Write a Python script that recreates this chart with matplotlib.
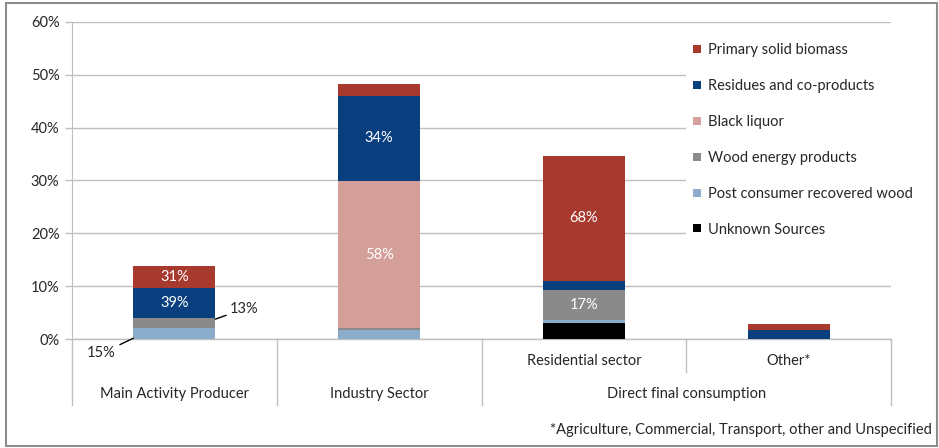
import matplotlib
matplotlib.use("Agg")
import matplotlib.pyplot as plt
from matplotlib.lines import Line2D
from matplotlib.patches import Rectangle
from matplotlib.transforms import blended_transform_factory
import numpy as np

plt.rcParams['font.family'] = ['Lato', 'DejaVu Sans']

# ---------------- data (% of total) ----------------
categories = ["Main Activity Producer", "Industry Sector", "Residential sector", "Other*"]
group_labels = ["Main Activity Producer", "Industry Sector", "Direct final consumption"]
series_names = ["Unknown Sources", "Post consumer recovered wood", "Wood energy products",
                "Black liquor", "Residues and co-products", "Primary solid biomass"]
unknown = [0.0, 0.0, 3.0, 0.0]
post_consumer = [2.1, 1.7, 0.6, 0.1]
wood_energy = [1.9, 0.4, 5.8, 0.0]
black_liquor = [0.0, 27.8, 0.0, 0.0]
residues = [5.6, 16.1, 1.7, 1.7]
primary = [4.3, 2.2, 23.6, 1.1]
colors = ["#000000", "#8BACCB", "#8A8A8A", "#D59F99", "#0A3F7F", "#A8392F"]

# in-bar labels: (category index, series index, text)
inner_labels = [(0, 5, "31%"), (0, 4, "39%"), (1, 4, "34%"), (1, 3, "58%"),
                (2, 5, "68%"), (2, 2, "17%")]
yticks = [0, 10, 20, 30, 40, 50, 60]

# ---------------- figure ----------------
W, H = 939, 448
fig = plt.figure(figsize=(W / 100, H / 100), dpi=100)
ax_l, ax_r, ax_t, ax_b = 72, 891, 21.7, 339.3
ax = fig.add_axes([ax_l / W, 1 - ax_b / H, (ax_r - ax_l) / W, (ax_b - ax_t) / H])

data = [unknown, post_consumer, wood_energy, black_liquor, residues, primary]
x = np.arange(len(categories))
bw = 0.4
bottom = np.zeros(len(categories))
bottoms = []
for vals, c in zip(data, colors):
    vals = np.array(vals)
    bottoms.append(bottom.copy())
    ax.bar(x, vals, bw, bottom=bottom, color=c, linewidth=0, zorder=3)
    bottom += vals

txtc = "#262626"
fs = 10.5
for ci, si, t in inner_labels:
    yc = bottoms[si][ci] + data[si][ci] / 2
    ax.text(x[ci], yc, t, color="white", ha="center", va="center", fontsize=fs, zorder=4)

# outside labels with leader lines
ax.annotate("13%", xy=(x[0] + bw / 2, bottoms[2][0] + data[2][0] * 0.9),
            xytext=(21, 7.5), textcoords="offset points", ha="center", va="center",
            fontsize=fs, color=txtc,
            arrowprops=dict(arrowstyle="-", color="black", lw=1, shrinkA=1, shrinkB=0))
ax.annotate("15%", xy=(x[0] - bw / 2, bottoms[1][0] + data[1][0] * 0.1),
            xytext=(-23, -11), textcoords="offset points", ha="center", va="center",
            fontsize=fs, color=txtc,
            arrowprops=dict(arrowstyle="-", color="black", lw=1, shrinkA=1, shrinkB=0))

ax.set_xlim(-0.5, len(categories) - 0.5)
ax.set_ylim(0, 60)
ax.set_yticks(yticks)
ax.set_yticklabels([f"{v}%" for v in yticks], fontsize=fs, color=txtc)
ax.set_xticks([])
gridc = "#BFBFBF"
ax.grid(axis="y", color=gridc, linewidth=1, zorder=0)
ax.tick_params(axis="y", length=5, color=gridc, width=1, pad=4)
for s in ["top", "right", "bottom"]:
    ax.spines[s].set_visible(False)
ax.spines["left"].set_color(gridc)

# category axis area
tr = blended_transform_factory(ax.transData, ax.transAxes)
ah = ax_b - ax_t
def fy(py):
    return (ax_b - py) / ah
for xb in [-0.5, 0.5, 1.5, 3.5]:
    ax.add_line(Line2D([xb, xb], [0, fy(405)], transform=tr, color=gridc, lw=1, clip_on=False))
ax.add_line(Line2D([2.5, 2.5], [0, fy(372)], transform=tr, color=gridc, lw=1, clip_on=False))
ax.add_line(Line2D([-0.5, 3.5], [0, 0], transform=tr, color=gridc, lw=1, clip_on=False))
for i in [2, 3]:
    ax.text(x[i], fy(361), categories[i], transform=tr, ha="center", va="center",
            fontsize=fs, color=txtc)
group_x = [0, 1, 2.5]
for gx, g in zip(group_x, group_labels):
    ax.text(gx, fy(394), g, transform=tr, ha="center", va="center", fontsize=fs, color=txtc)

fig.text(932 / W, 1 - 430 / H, "*Agriculture, Commercial, Transport, other and Unspecified",
         ha="right", va="center", fontsize=fs, color=txtc)

# legend
handles = [Line2D([], [], marker="s", linestyle="none", markersize=6, color=c,
                  markeredgewidth=0) for c in colors[::-1]]
leg = fig.legend(handles, series_names[::-1], loc="upper left",
                 bbox_to_anchor=(679 / W, 1 - 30 / H), frameon=True, fontsize=fs,
                 labelspacing=1.5, handlelength=0.6, handletextpad=0.5, borderpad=0.4,
                 labelcolor=txtc)
leg.get_frame().set_facecolor("white")
leg.get_frame().set_edgecolor("none")
leg.get_frame().set_alpha(1)

# outer frame
fig.patches.append(Rectangle((6 / W, 1 - 446 / H), 931 / W, 443 / H, transform=fig.transFigure,
                             fill=False, edgecolor="#8C8C8C", lw=1.5))

fig.savefig("out.png", dpi=100)
